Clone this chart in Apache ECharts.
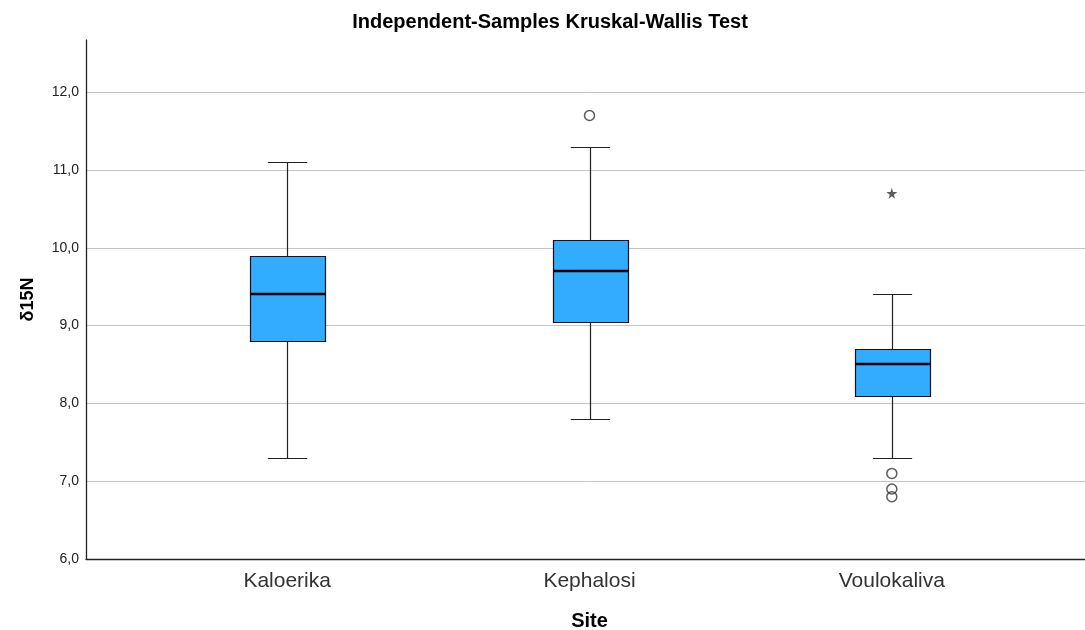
<!DOCTYPE html>
<html>
<head>
<meta charset="utf-8">
<script src="https://cdn.jsdelivr.net/npm/echarts@6/dist/echarts.min.js"></script>
<style>
  html, body { margin: 0; padding: 0; background: #fff; }
  #chart { width: 1085px; height: 630px; }
</style>
</head>
<body>
<div id="chart"></div>
<script>
// values
const sites = ['Kaloerika', 'Kephalosi', 'Voulokaliva'];
const whiskerLow = [7.3, 7.8, 7.3];
const q1 = [8.8, 9.05, 8.1];
const medians = [9.4, 9.7, 8.5];
const q3 = [9.9, 10.1, 8.7];
const whiskerHigh = [11.1, 11.3, 9.4];
// outliers (circles) and extremes (stars): [site index, value]
const outliers = [[1, 11.7], [2, 7.1], [2, 6.9], [2, 6.8]];
const extremes = [[2, 10.7]];
const yMin = 6;
const yMax = 12.67;
const yStep = 1;

const boxData = sites.map((s, i) => [i, whiskerLow[i], q1[i], medians[i], q3[i], whiskerHigh[i]]);

const font = "'Liberation Sans', Arial, sans-serif";

function renderBox(params, api) {
  const i = api.value(0);
  const bw = api.size([1, 0])[0];
  const boxHalf = bw * 0.125;
  const capHalf = bw * 0.065;
  const yLow = Math.round(api.coord([i, api.value(1)])[1]) + 0.5;
  const yQ1 = Math.round(api.coord([i, api.value(2)])[1]) + 0.5;
  const yMed = Math.round(api.coord([i, api.value(3)])[1]);
  const yQ3 = Math.round(api.coord([i, api.value(4)])[1]) + 0.5;
  const yHigh = Math.round(api.coord([i, api.value(5)])[1]) + 0.5;
  const cx = Math.round(api.coord([i, api.value(3)])[0]) + 0.5;
  const x0 = Math.round(cx - boxHalf) + 0.5;
  const x1 = Math.round(cx + boxHalf) + 0.5;
  const ln = { stroke: '#222', lineWidth: 1.2 };
  return {
    type: 'group',
    children: [
      { type: 'line', shape: { x1: cx, y1: yHigh, x2: cx, y2: yQ3 }, style: ln },
      { type: 'line', shape: { x1: cx, y1: yQ1, x2: cx, y2: yLow }, style: ln },
      { type: 'line', shape: { x1: cx - capHalf, y1: yHigh, x2: cx + capHalf, y2: yHigh }, style: ln },
      { type: 'line', shape: { x1: cx - capHalf, y1: yLow, x2: cx + capHalf, y2: yLow }, style: ln },
      { type: 'rect', shape: { x: x0, y: yQ3, width: x1 - x0, height: yQ1 - yQ3 },
        style: { fill: '#32acff', stroke: '#111', lineWidth: 1.2 } },
      { type: 'line', shape: { x1: x0, y1: yMed, x2: x1, y2: yMed },
        style: { stroke: '#000', lineWidth: 2.5 } }
    ]
  };
}

const myChart = echarts.init(document.getElementById('chart'));

const option = {
  animation: false,
  title: {
    text: 'Independent-Samples Kruskal-Wallis Test',
    left: 550,
    top: 12,
    padding: 0,
    textAlign: 'center',
    textStyle: { fontFamily: font, fontSize: 20, fontWeight: 'bold', color: '#000' }
  },
  grid: [
    { left: 86, right: 0, top: 40, bottom: 71, outerBoundsMode: 'none' },  // frame + gridlines
    { left: 136, right: 42, top: 40, bottom: 71, outerBoundsMode: 'none' } // boxes
  ],
  xAxis: [
    {
      gridIndex: 0,
      type: 'value',
      min: 0,
      max: 1,
      axisLine: { show: true, lineStyle: { color: '#222', width: 1.3 } },
      axisTick: { show: false },
      axisLabel: { show: false },
      splitLine: { show: false }
    },
    {
      gridIndex: 1,
      type: 'category',
      data: sites,
      axisLine: { show: false },
      axisTick: { show: false },
      axisLabel: { fontFamily: font, fontSize: 21, color: '#333', margin: 12 },
      name: 'Site',
      nameLocation: 'middle',
      nameGap: 52,
      nameTextStyle: { fontFamily: font, fontSize: 20, fontWeight: 'bold', color: '#000' }
    }
  ],
  yAxis: [
    {
      gridIndex: 0,
      type: 'value',
      min: yMin,
      max: yMax,
      interval: yStep,
      axisLine: { show: true, lineStyle: { color: '#222', width: 1.3 } },
      axisTick: { show: false },
      axisLabel: {
        fontFamily: font,
        fontSize: 14,
        color: '#222',
        margin: 7,
        formatter: v => (Math.abs(v - Math.round(v)) < 1e-6 ? v.toFixed(1).replace('.', ',') : '')
      },
      splitLine: {
        show: true,
        showMinLine: false,
        showMaxLine: false,
        lineStyle: { color: '#c4c4c4', width: 1 }
      },
      name: 'δ15N',
      nameLocation: 'middle',
      nameGap: 49,
      nameTextStyle: { fontFamily: font, fontSize: 18, fontWeight: 'bold', color: '#000' }
    },
    {
      gridIndex: 1,
      type: 'value',
      min: yMin,
      max: yMax,
      show: false,
      splitLine: { show: false }
    }
  ],
  series: [
    {
      type: 'custom',
      xAxisIndex: 1,
      yAxisIndex: 1,
      renderItem: renderBox,
      encode: { x: 0, y: [1, 2, 3, 4, 5] },
      data: boxData
    },
    {
      type: 'scatter',
      xAxisIndex: 1,
      yAxisIndex: 1,
      symbol: 'circle',
      symbolSize: 10,
      itemStyle: { color: 'rgba(0,0,0,0)', borderColor: '#333', borderWidth: 1.5 },
      data: outliers
    },
    {
      type: 'scatter',
      xAxisIndex: 1,
      yAxisIndex: 1,
      symbol: 'path://M50,0 L61,35 L98,35 L68,57 L79,91 L50,70 L21,91 L32,57 L2,35 L39,35 Z',
      symbolSize: 11,
      itemStyle: { color: '#333' },
      data: extremes
    }
  ]
};

myChart.setOption(option);
window.addEventListener('resize', () => myChart.resize());
</script>
</body>
</html>
